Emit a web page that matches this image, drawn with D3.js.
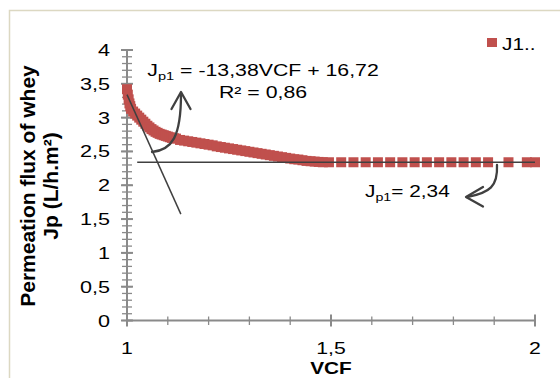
<!DOCTYPE html>
<html>
<head>
<meta charset="utf-8">
<script src="https://cdn.jsdelivr.net/npm/d3@7"></script>
<style>
  body { margin: 0; background: #fff; }
  text { font-family: "Liberation Sans", Arial, sans-serif; fill: #000; }
</style>
</head>
<body>
<div id="chart"></div>
<script>
// data
var vcf = [1.000, 1.002, 1.004, 1.006, 1.008, 1.010, 1.015, 1.020, 1.025, 1.030,
           1.035, 1.040, 1.045, 1.050, 1.055, 1.060, 1.065, 1.070, 1.075, 1.080,
           1.085, 1.090, 1.095, 1.100, 1.105, 1.110, 1.115, 1.12, 1.13, 1.14,
           1.15, 1.16, 1.17, 1.18, 1.19, 1.20, 1.21, 1.22, 1.23, 1.24,
           1.25, 1.26, 1.27, 1.28, 1.29, 1.30, 1.31, 1.32, 1.33, 1.34,
           1.35, 1.36, 1.37, 1.38, 1.39, 1.40, 1.41, 1.42, 1.43, 1.44,
           1.45, 1.46, 1.47, 1.48, 1.495, 1.525, 1.555, 1.585, 1.615, 1.645,
           1.675, 1.705, 1.735, 1.765, 1.795, 1.825, 1.855, 1.885, 1.935, 1.98, 2.0];
var flux = [3.42, 3.34, 3.27, 3.21, 3.17, 3.13, 3.09, 3.06, 3.03, 3.00,
            2.97, 2.94, 2.91, 2.88, 2.855, 2.83, 2.81, 2.79, 2.775, 2.76,
            2.75, 2.74, 2.73, 2.72, 2.71, 2.70, 2.695, 2.69, 2.67, 2.66,
            2.65, 2.64, 2.63, 2.62, 2.61, 2.60, 2.59, 2.575, 2.565, 2.555,
            2.545, 2.535, 2.525, 2.515, 2.505, 2.495, 2.485, 2.475, 2.465, 2.455,
            2.445, 2.435, 2.425, 2.415, 2.405, 2.395, 2.385, 2.38, 2.37, 2.36,
            2.355, 2.35, 2.345, 2.34, 2.34, 2.34, 2.34, 2.34, 2.34, 2.34,
            2.34, 2.34, 2.34, 2.34, 2.34, 2.34, 2.34, 2.34, 2.34, 2.34, 2.34];
var seriesName = "J1..";

// fitted lines
var slope = -13.38, intercept = 16.72;
var trendX = [1.0, 1.132];
var plateau = 2.34;
var plateauX = [1.025, 2.0];

var xTicks = [1, 1.5, 2];
var xTickLabels = ["1", "1,5", "2"];
var yTicks = [0, 0.5, 1, 1.5, 2, 2.5, 3, 3.5, 4];
var yTickLabels = ["0", "0,5", "1", "1,5", "2", "2,5", "3", "3,5", "4"];

var W = 560, H = 378;
var red = "#C0504D", dark = "#404040", axisCol = "#8a8a8a";

var svg = d3.select("#chart").append("svg")
  .attr("width", W).attr("height", H);

// outer chart border
svg.append("rect")
  .attr("x", 9.5).attr("y", 10.5)
  .attr("width", 640).attr("height", 420)
  .attr("fill", "#fff")
  .attr("stroke", "#dcd8c2").attr("stroke-width", 1.5);

var x = d3.scaleLinear().domain([1, 2]).range([127, 535]);
var y = d3.scaleLinear().domain([0, 4]).range([320.5, 50]);

// text helper, glyphs in the picture are wider than tall
function label(px, py, str, opts) {
  opts = opts || {};
  return svg.append("text")
    .attr("transform", "translate(" + px + "," + py + ") scale(" + (opts.sx || 1.3) + ",1)")
    .attr("text-anchor", opts.anchor || "start")
    .style("font-size", (opts.size || 16) + "px")
    .style("font-weight", opts.weight || "normal")
    .text(str);
}

// axes (ticks cross the axis line)
var g = svg.append("g");
g.append("line")
  .attr("x1", x(1)).attr("x2", x(1))
  .attr("y1", y(0)).attr("y2", y(4))
  .attr("stroke", axisCol).attr("stroke-width", 2);
g.append("line")
  .attr("x1", x(1)).attr("x2", x(2))
  .attr("y1", y(0)).attr("y2", y(0))
  .attr("stroke", axisCol).attr("stroke-width", 2);

g.selectAll(".yminor")
  .data(d3.range(0, 4.001, 0.1))
  .enter().append("line")
    .attr("x1", x(1) - 5).attr("x2", x(1) + 5)
    .attr("y1", function(d) { return y(d); })
    .attr("y2", function(d) { return y(d); })
    .attr("stroke", axisCol).attr("stroke-width", 1.3);
g.selectAll(".ymajor")
  .data(yTicks)
  .enter().append("line")
    .attr("x1", x(1) - 6).attr("x2", x(1) + 6)
    .attr("y1", function(d) { return y(d); })
    .attr("y2", function(d) { return y(d); })
    .attr("stroke", axisCol).attr("stroke-width", 2);
g.selectAll(".xminor")
  .data(d3.range(1, 2.001, 0.1))
  .enter().append("line")
    .attr("x1", function(d) { return x(d); })
    .attr("x2", function(d) { return x(d); })
    .attr("y1", y(0) - 4).attr("y2", y(0) + 4.5)
    .attr("stroke", axisCol).attr("stroke-width", 1.3);
g.selectAll(".xmajor")
  .data(xTicks)
  .enter().append("line")
    .attr("x1", function(d) { return x(d); })
    .attr("x2", function(d) { return x(d); })
    .attr("y1", y(0) - 6).attr("y2", y(0) + 6)
    .attr("stroke", axisCol).attr("stroke-width", 2);

yTicks.forEach(function(d, i) {
  label(110, y(d) + 6, yTickLabels[i], {anchor: "end", sx: 1.35});
});
xTicks.forEach(function(d, i) {
  label(x(d), 354, xTickLabels[i], {anchor: "middle", size: 17, sx: 1.25});
});

// axis titles
label(x(1.5), 374, "VCF", {anchor: "middle", weight: "bold"});
var yt = svg.append("g").attr("transform", "translate(35,186) rotate(-90)");
yt.append("text").attr("text-anchor", "middle")
  .style("font-size", "21px").style("font-weight", "bold")
  .text("Permeation flux of whey");
yt.append("text").attr("text-anchor", "middle").attr("y", 23)
  .style("font-size", "21px").style("font-weight", "bold")
  .text("Jp (L/h.m²)");

// series markers
var pts = vcf.map(function(v, i) { return {vcf: v, jp: flux[i]}; });
svg.append("g").selectAll("rect")
  .data(pts)
  .enter().append("rect")
    .attr("x", function(d) { return x(d.vcf) - 5; })
    .attr("y", function(d) { return y(d.jp) - 5; })
    .attr("width", 10).attr("height", 10)
    .attr("fill", red);

// trend line and plateau line
svg.append("line")
  .attr("x1", x(trendX[0])).attr("y1", y(slope * trendX[0] + intercept))
  .attr("x2", x(trendX[1])).attr("y2", y(slope * trendX[1] + intercept))
  .attr("stroke", dark).attr("stroke-width", 1.5);
svg.append("line")
  .attr("x1", x(plateauX[0])).attr("y1", y(plateau))
  .attr("x2", x(plateauX[1])).attr("y2", y(plateau))
  .attr("stroke", dark).attr("stroke-width", 1.5);

// curved arrows
var arrowStyle = function(sel) {
  return sel.attr("fill", "none").attr("stroke", dark)
    .attr("stroke-width", 2.3).attr("stroke-linecap", "round").attr("stroke-linejoin", "round");
};
arrowStyle(svg.append("path")
  .attr("d", "M152,152 C172,150 181,137 181,94"));
arrowStyle(svg.append("path")
  .attr("d", "M171.5,109 L181,92 L190.5,109"));
arrowStyle(svg.append("path")
  .attr("d", "M497,165 C498,186 490,193 467,197"));
arrowStyle(svg.append("path")
  .attr("d", "M483,187 L466,197 L483,206.5"));

// equation annotations
var eq = label(263, 76, "", {anchor: "middle", sx: 1.33});
eq.append("tspan").text("J");
eq.append("tspan").attr("dy", 4).style("font-size", "11px").text("p1");
eq.append("tspan").attr("dy", -4).text(" = -13,38VCF + 16,72");
label(263, 98, "R² = 0,86", {anchor: "middle", sx: 1.33});

var eq2 = label(365, 197, "", {sx: 1.3});
eq2.append("tspan").text("J");
eq2.append("tspan").attr("dy", 4).style("font-size", "11px").text("p1");
eq2.append("tspan").attr("dy", -4).text("= 2,34");

// legend
svg.append("rect")
  .attr("x", 487).attr("y", 38).attr("width", 10).attr("height", 9)
  .attr("fill", red);
label(502, 50, seriesName, {sx: 1.3});
</script>
</body>
</html>
